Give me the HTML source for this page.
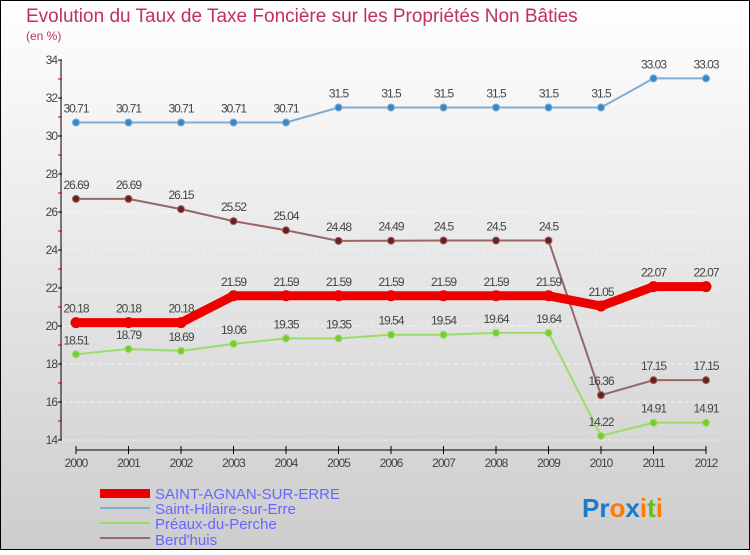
<!DOCTYPE html>
<html><head><meta charset="utf-8"><style>
body{margin:0}
#c{width:750px;height:550px;position:relative;font-family:"Liberation Sans",sans-serif}
</style></head><body>
<div id="c">
<svg id="s" width="750" height="550" xmlns="http://www.w3.org/2000/svg">
<defs><linearGradient id="bg" x1="0" y1="0" x2="0" y2="1"><stop offset="0" stop-color="#ffffff"/><stop offset="1" stop-color="#cdcdcd"/></linearGradient></defs>
<rect x="0.5" y="0.5" width="749" height="549" fill="url(#bg)" stroke="#000"/>
<text x="26" y="22" font-size="19" fill="#c0305a">Evolution du Taux de Taxe Foncière sur les Propriétés Non Bâties</text>
<text x="26" y="40" font-size="12" fill="#c0305a">(en %)</text>
<g id="axes"></g><g id="series"></g>
<g>
<rect x="100" y="489" width="50" height="9" fill="#e00"/>
<text x="155" y="499" font-size="15" fill="#6666ff">SAINT-AGNAN-SUR-ERRE</text>
<line x1="100" y1="508" x2="150" y2="508" stroke="#7fadd3" stroke-width="2"/>
<text x="155" y="514" font-size="15" fill="#6666ff">Saint-Hilaire-sur-Erre</text>
<line x1="100" y1="523" x2="150" y2="523" stroke="#99dd66" stroke-width="2"/>
<text x="155" y="529" font-size="15" fill="#6666ff">Préaux-du-Perche</text>
<line x1="100" y1="538" x2="150" y2="538" stroke="#996666" stroke-width="2"/>
<text x="155" y="545" font-size="15" fill="#6666ff">Berd'huis</text>
</g>
<text x="582" y="517" font-size="26" font-weight="bold"><tspan fill="#1a7acc">Pr</tspan><tspan fill="#ff7a00">o</tspan><tspan fill="#1a7acc">x</tspan><tspan fill="#ff7a00">i</tspan><tspan fill="#66bb22">t</tspan><tspan fill="#ff7a00">i</tspan></text>
</svg>
</div>
<script>
const years=["2000","2001","2002","2003","2004","2005","2006","2007","2008","2009","2010","2011","2012"];
const yTicks=[14,16,18,20,22,24,26,28,30,32,34];
const saintAgnan=[20.18,20.18,20.18,21.59,21.59,21.59,21.59,21.59,21.59,21.59,21.05,22.07,22.07];
const saintHilaire=[30.71,30.71,30.71,30.71,30.71,31.5,31.5,31.5,31.5,31.5,31.5,33.03,33.03];
const preaux=[18.51,18.79,18.69,19.06,19.35,19.35,19.54,19.54,19.64,19.64,14.22,14.91,14.91];
const berdhuis=[26.69,26.69,26.15,25.52,25.04,24.48,24.49,24.5,24.5,24.5,16.36,17.15,17.15];
const NS="http://www.w3.org/2000/svg";
const X=i=>76+i*52.5;
const Y=v=>440-(v-14)*19;
function mk(t,a,p){const e=document.createElementNS(NS,t);for(const k in a)e.setAttribute(k,a[k]);p.appendChild(e);return e;}
const ax=document.getElementById('axes');
const yl=mk('line',{x1:61,y1:60,x2:61,y2:440,stroke:'#000'},ax);


yTicks.forEach(v=>{
 mk('line',{x1:58,y1:Y(v),x2:62,y2:Y(v),stroke:'#000'},ax);
 if(v<34) mk('line',{x1:58,y1:Y(v+1),x2:62,y2:Y(v+1),stroke:'#c00'},ax);
 mk('line',{x1:62,y1:Y(v),x2:718,y2:Y(v),stroke:'#fff','stroke-dasharray':'4,3','stroke-opacity':0.6},ax);
 const t=mk('text',{x:57,y:Y(v)+4,'font-size':12,fill:'#444','text-anchor':'end','letter-spacing':'-1'},ax);
 t.textContent=v;
 
 
});
const xl=mk('line',{x1:76,y1:450,x2:706,y2:450,stroke:'#000'},ax);


years.forEach((y,i)=>{
 mk('line',{x1:X(i),y1:446,x2:X(i),y2:454,stroke:'#000'},ax);
 const t=mk('text',{x:X(i),y:467,'font-size':12,fill:'#444','text-anchor':'middle','letter-spacing':'-1'},ax);
 t.textContent=y;
 
 
});
const sg=document.getElementById('series');
function series(vals,color,dot,w,r,name){
 const g=mk('g',{},sg);
 
 
 mk('polyline',{points:vals.map((v,i)=>X(i)+','+Y(v)).join(' '),fill:'none',stroke:color,'stroke-width':w,'stroke-linejoin':'round'},g);
 vals.forEach((v,i)=>{
  const c=mk('circle',{cx:X(i),cy:Y(v),r:r,fill:dot,stroke:color,'stroke-width':1},g);
  
  
  const t=mk('text',{x:X(i),y:Y(v)-10,'font-size':12,fill:'#444','text-anchor':'middle','letter-spacing':'-1'},g);
  t.textContent=v;
  
  
 });
}
series(saintHilaire,'#7fadd3','#3a87c4',2,3.5,'saint-hilaire-series');
series(preaux,'#99dd66','#77cc33',2,3.5,'preaux-series');
series(berdhuis,'#996666','#6b1f1f',2,3.5,'berdhuis-series');
series(saintAgnan,'#ee0000','#ee0000',9,5,'saint-agnan-series');
</script>
</body></html>
